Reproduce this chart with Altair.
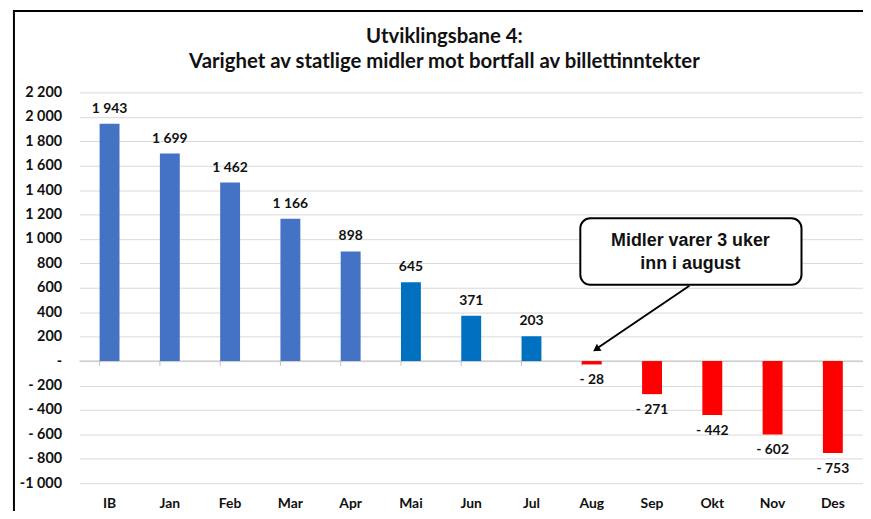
import altair as alt
import pandas as pd

categories = ["IB", "Jan", "Feb", "Mar", "Apr", "Mai", "Jun", "Jul", "Aug", "Sep", "Okt", "Nov", "Des"]
values = [1943, 1699, 1462, 1166, 898, 645, 371, 203, -28, -271, -442, -602, -753]
palette = ["#4472C4"] * 5 + ["#0070C0"] * 3 + ["#FF0000"] * 5
y_ticks = list(range(-1000, 2201, 200))
title_lines = ["Utviklingsbane 4:", "Varighet av statlige midler mot bortfall av billettinntekter"]
note_lines = ["Midler varer 3 uker", "inn i august"]


def fmt(v):
    s = f"{abs(v):,}".replace(",", " ")
    return s if v >= 0 else "- " + s


df = pd.DataFrame({"cat": categories, "val": values, "lab": [fmt(v) for v in values]})

FONT = "Lato"
W, H = 790, 394

x_axis = alt.Axis(title=None, labelAngle=0, domain=False, ticks=False, grid=False,
                  labelPadding=14, labelFont=FONT, labelFontWeight="bold",
                  labelFontSize=14, labelColor="#111111")
x_scale = alt.Scale(paddingInner=0.67, paddingOuter=0.335)
x = alt.X("cat:N", sort=categories, scale=x_scale, axis=x_axis)

label_expr = ("datum.value == 0 ? '-' : (datum.value < 0 ? ((datum.value <= -1000 ? '-' : '- ') + "
              "replace(format(-datum.value, ','), ',', ' ')) : replace(format(datum.value, ','), ',', ' '))")
y_axis = alt.Axis(title=None, values=y_ticks, tickCount=len(y_ticks), labelExpr=label_expr,
                  domain=False, ticks=False,
                  grid=True, gridColor="#d9d9d9", gridWidth=1, labelPadding=18, labelOverlap=False,
                  labelFont=FONT, labelFontWeight="bold", labelFontSize=14.5, labelColor="#111111")
y_scale = alt.Scale(domain=[-1000, 2200], nice=False, zero=False)
y = alt.Y("val:Q", scale=y_scale, axis=y_axis)

base = alt.Chart(df)
bars = base.mark_bar().encode(
    x=x, y=y,
    color=alt.Color("cat:N", scale=alt.Scale(domain=categories, range=palette), legend=None),
)
pos_lab = base.transform_filter("datum.val >= 0").mark_text(
    baseline="bottom", dy=-8, font=FONT, fontWeight="bold", fontSize=14, color="#111111"
).encode(x=x, y=y, text="lab:N")
neg_lab = base.transform_filter("datum.val < 0").mark_text(
    baseline="top", dy=9, font=FONT, fontWeight="bold", fontSize=14, color="#111111"
).encode(x=x, y=y, text="lab:N")

zero = alt.Chart(pd.DataFrame({"val": [0]})).mark_rule(color="#bfbfbf", strokeWidth=1).encode(
    y=y, x=alt.value(0), x2=alt.value(W))
ticks = alt.Chart(pd.DataFrame({"cat": categories, "val": [0] * len(categories),
                                "low": [-40] * len(categories)})).mark_rule(
    color="#bfbfbf", strokeWidth=1).encode(
    x=alt.X("cat:N", sort=categories, bandPosition=0, scale=x_scale, axis=x_axis), y=y, y2="low:Q")

one = pd.DataFrame({"a": [0]})


def txt(s, px, py, size, font):
    return alt.Chart(one).mark_text(font=font, fontWeight="bold", fontSize=size, color="#111111",
                                    baseline="middle", align="center").encode(
        x=alt.value(px), y=alt.value(py), text=alt.value(s))


title1 = txt(title_lines[0], 368, -56, 20.5, FONT)
title2 = txt(title_lines[1], 368, -31, 20.5, FONT)

box = alt.Chart(one).mark_rect(fill="white", stroke="black", strokeWidth=2, cornerRadius=10).encode(
    x=alt.value(505), x2=alt.value(728), y=alt.value(127), y2=alt.value(194))
note1 = txt(note_lines[0], 616, 150, 18, "Liberation Sans")
note2 = txt(note_lines[1], 616, 173, 18, "Liberation Sans")
arrow = alt.Chart(one).mark_rule(color="black", strokeWidth=2).encode(
    x=alt.value(615), y=alt.value(195), x2=alt.value(522), y2=alt.value(258))
head = alt.Chart(one).mark_point(shape="triangle-up", filled=True, color="black", opacity=1,
                                 size=70, angle=235.8).encode(x=alt.value(521), y=alt.value(259))

frame_left = alt.Chart(one).mark_rule(color="black", strokeWidth=2).encode(
    x=alt.value(-66), y=alt.value(-82), y2=alt.value(430))
frame_top = alt.Chart(one).mark_rule(color="black", strokeWidth=2).encode(
    x=alt.value(-67), x2=alt.value(W), y=alt.value(-82))

chart = alt.layer(zero, ticks, bars, pos_lab, neg_lab, box, note1, note2, arrow, head,
                  frame_left, frame_top, title1, title2).properties(
    width=W, height=H,
    autosize=alt.AutoSizeParams(type="none"),
    padding={"left": 72, "top": 83, "right": 0, "bottom": 26},
).configure_view(stroke=None)

chart.save("out.html", embed_options={"renderer": "svg", "actions": False})
